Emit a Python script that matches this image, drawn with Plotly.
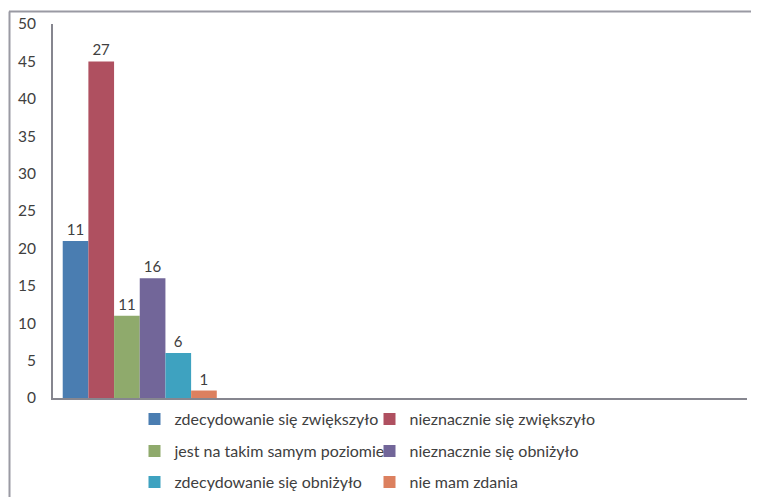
import plotly.graph_objects as go

series_names = [
    "zdecydowanie się zwiększyło",
    "nieznacznie się zwiększyło",
    "jest na takim samym poziomie",
    "nieznacznie się obniżyło",
    "zdecydowanie się obniżyło",
    "nie mam zdania",
]
bar_heights = [21, 45, 11, 16, 6, 1]
bar_labels = ["11", "27", "11", "16", "6", "1"]
colors = ["#4a7db1", "#af5060", "#8faa6c", "#726699", "#3ea2c0", "#dc805f"]
y_ticks = [0, 5, 10, 15, 20, 25, 30, 35, 40, 45, 50]
legend_rows = ["legend", "legend", "legend2", "legend2", "legend3", "legend3"]

FONT = "Lato"
TXT = "#404040"

# page is offset by the body margin (8px): figure coords = page coords - 8
W, H = 759, 489
L, T = 45, 16
PW = 694
PH = 374
R = W - L - PW
B = H - T - PH

fig = go.Figure()
for name, h, lab, c, lg in zip(series_names, bar_heights, bar_labels, colors, legend_rows):
    fig.add_trace(go.Bar(
        x=[0], y=[h], name=name, marker=dict(color=c, line=dict(width=0)),
        text=[lab], textposition="outside", cliponaxis=False,
        textfont=dict(family=FONT, size=15, color=TXT),
        legend=lg,
    ))

def leg(ypage):
    return dict(
        orientation="h", x=(134.5 - 53) / PW, xanchor="left",
        y=(398 - ypage) / PH, yanchor="middle",
        entrywidth=190, traceorder="normal",
        font=dict(family=FONT, size=16, color=TXT),
        bgcolor="rgba(0,0,0,0)",
    )

fx = lambda px: (px - 53) / PW
fy = lambda py: (398 - py) / PH

fig.update_layout(
    width=W, height=H,
    margin=dict(l=L, r=R, t=T, b=B, autoexpand=False),
    paper_bgcolor="white", plot_bgcolor="white",
    barmode="group", bargap=0.112, bargroupgap=0,
    showlegend=True,
    legend=leg(419), legend2=leg(451), legend3=leg(482),
    xaxis=dict(range=[-0.5, 3.5], showticklabels=False, ticks="",
               showgrid=False, zeroline=False, showline=True,
               linecolor="#86868f", linewidth=2),
    yaxis=dict(range=[0, 50], tickvals=y_ticks, ticks="", showgrid=False,
               zeroline=False, showline=True, linecolor="#86868f", linewidth=2,
               ticklabelstandoff=12,
               tickfont=dict(family=FONT, size=15.5, color=TXT)),
    shapes=[
        dict(type="line", xref="paper", yref="paper", x0=fx(9), x1=fx(800),
             y0=fy(11.5), y1=fy(11.5), line=dict(color="#9a9aa3", width=2)),
        dict(type="line", xref="paper", yref="paper", x0=fx(9.5), x1=fx(9.5),
             y0=fy(11.5), y1=fy(520), line=dict(color="#9a9aa3", width=2)),
    ],
)

fig.write_html("out.html")
